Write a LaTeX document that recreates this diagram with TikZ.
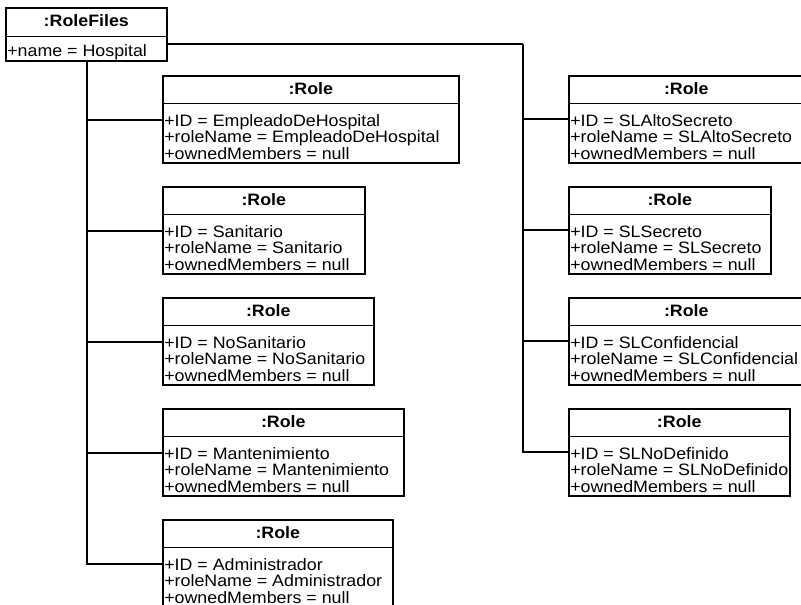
\documentclass[tikz,border=0pt]{standalone}
\usepackage{fontspec}
\setmainfont{Liberation Sans}[FakeStretch=1.08]
\usetikzlibrary{positioning,shapes.multipart}

% object boxes: name compartment on top, slot values below
\tikzset{
  objfont/.style={font=\fontsize{16.5bp}{16.7bp}\selectfont},
  uobj/.style={rectangle split, rectangle split parts=2, draw=black,
               line width=1.6bp, anchor=north west, inner xsep=1.5bp,
               inner ysep=0pt, rectangle split part align={center,left},
               align=left, objfont},
  link/.style={draw=black, line width=1.6bp}
}
\newcommand{\rolehd}{\rule[-8bp]{0pt}{26bp}\textbf{:Role}}
\newcommand{\roleslots}[1]{\rule{0pt}{22bp}+ID = #1\\
  +roleName = #1\\
  +ownedMembers = null\rule[-2.6bp]{0pt}{2.6bp}}

\begin{document}
\begin{tikzpicture}[x=1bp,y=-1bp]
  \useasboundingbox[fill=white] (0,0) rectangle (801,605);

  \node[uobj, minimum width=161bp] (files) at (5,7)
    {\rule[-9bp]{0pt}{27bp}\textbf{:RoleFiles}
     \nodepart{two}\rule[-3.7bp]{0pt}{23bp}+name = Hospital};

  % roles of the hospital
  \node[uobj, minimum width=296bp] (empHosp) at (162,75)
    {\rolehd \nodepart{two}\roleslots{EmpleadoDeHospital}};
  \node[uobj, minimum width=202bp] (sanit) at (162,186)
    {\rolehd \nodepart{two}\roleslots{Sanitario}};
  \node[uobj, minimum width=211bp] (noSanit) at (162,297)
    {\rolehd \nodepart{two}\roleslots{NoSanitario}};
  \node[uobj, minimum width=241bp] (mant) at (162,408)
    {\rolehd \nodepart{two}\roleslots{Mantenimiento}};
  \node[uobj, minimum width=230bp] (admin) at (162,519)
    {\rolehd \nodepart{two}\roleslots{Administrador}};

  % security levels
  \node[uobj, minimum width=235bp] (altoSec) at (568,75)
    {\rolehd \nodepart{two}\roleslots{SLAltoSecreto}};
  \node[uobj, minimum width=202bp] (secreto) at (568,186)
    {\rolehd \nodepart{two}\roleslots{SLSecreto}};
  \node[uobj, minimum width=235bp] (confid) at (568,297)
    {\rolehd \nodepart{two}\roleslots{SLConfidencial}};
  \node[uobj, minimum width=193bp] (noDef) at (568,408)
    {\rolehd \nodepart{two}\roleslots{SLNoDefinido}};

  % trunks
  \coordinate (trunkL) at ([xshift=82bp]files.south west);
  \coordinate (trunkR) at (523,44);
  \draw[link] ([yshift=-37bp]files.north east) -- (trunkR);

  \foreach \r in {empHosp,sanit,noSanit,mant,admin}
    \draw[link] ([yshift=-45bp]\r.north west) -| (trunkL);
  \foreach \r in {altoSec,secreto,confid,noDef}
    \draw[link] ([yshift=-44bp]\r.north west) -| (trunkR);
\end{tikzpicture}
\end{document}
